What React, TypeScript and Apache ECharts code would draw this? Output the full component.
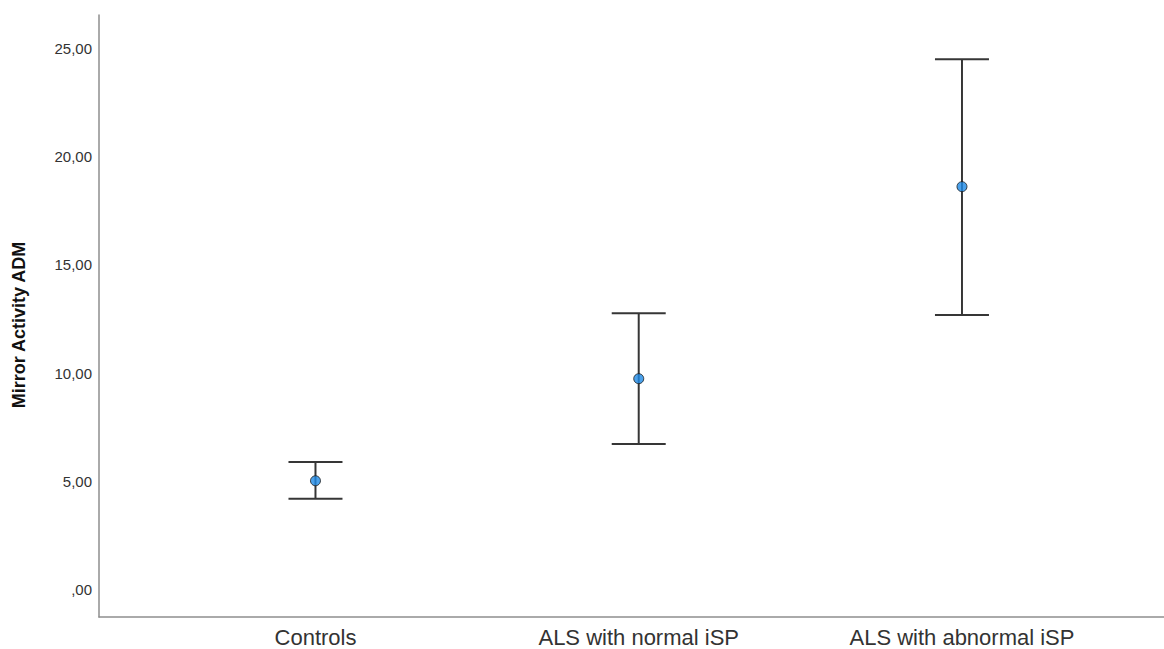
import React, { useEffect, useRef } from "react";
import * as echarts from "echarts";

// Group names, placed at x = 1, 2, 3 on the value axis
const groups = ["Controls", "ALS with normal iSP", "ALS with abnormal iSP"];
// Mean mirror activity per group
const means = [5.04, 9.75, 18.61];
// Lower and upper error-bar limits per group
const lowers = [4.21, 6.74, 12.69];
const uppers = [5.91, 12.77, 24.49];
// Y tick positions
const yTicks = [0, 5, 10, 15, 20, 25];
const yTitle = "Mirror Activity ADM";

const fmtComma = (v: number) => {
  const s = v.toFixed(2).replace(".", ",");
  return s.startsWith("0,") ? s.slice(1) : s;
};

const FONT = "Liberation Sans, Arial, sans-serif";

export default function App() {
  const ref = useRef<HTMLDivElement>(null);

  useEffect(() => {
    if (!ref.current) return;
    const chart = echarts.init(ref.current, undefined, { renderer: "svg" });

    const barData = groups.map((_, i) => [i + 1, lowers[i], uppers[i]]);
    const pointData = groups.map((_, i) => [i + 1, means[i]]);
    const axisColor = "#8e8e8e";

    chart.setOption({
      animation: false,
      backgroundColor: "#ffffff",
      grid: {
        left: 99,
        top: 15,
        right: 0,
        bottom: 32,
        containLabel: false,
        outerBoundsMode: "none",
      },
      graphic: [
        {
          type: "text",
          x: 19,
          y: 325,
          rotation: Math.PI / 2,
          style: {
            text: yTitle,
            align: "center",
            verticalAlign: "middle",
            font: `bold 18px ${FONT}`,
            fill: "#111111",
          },
        },
      ],
      xAxis: {
        type: "value",
        min: 0.3303,
        max: 3.625,
        splitLine: { show: false },
        axisLine: { show: true, onZero: false, lineStyle: { color: axisColor, width: 1.5 } },
        axisTick: { show: false },
        axisLabel: {
          customValues: [1, 2, 3],
          formatter: (v: number) => groups[Math.round(v) - 1] ?? "",
          fontFamily: FONT,
          fontSize: 22,
          color: "#333333",
          margin: 9,
        },
      },
      yAxis: {
        type: "value",
        min: -1.246,
        max: 26.53,
        splitLine: { show: false },
        axisLine: { show: true, onZero: false, lineStyle: { color: axisColor, width: 1.5 } },
        axisTick: { show: false },
        axisLabel: {
          customValues: yTicks,
          formatter: (v: number) => fmtComma(v),
          fontFamily: FONT,
          fontSize: 15,
          color: "#333333",
          margin: 7,
        },
      },
      series: [
        {
          type: "custom",
          data: barData,
          encode: { x: 0, y: [1, 2] },
          renderItem: (params: any, api: any) => {
            const x = api.value(0);
            const lo = api.coord([x, api.value(1)]);
            const hi = api.coord([x, api.value(2)]);
            const half = 27;
            const style = { stroke: "#363636", lineWidth: 2 };
            return {
              type: "group",
              children: [
                { type: "line", shape: { x1: lo[0], y1: lo[1], x2: hi[0], y2: hi[1] }, style },
                { type: "line", shape: { x1: hi[0] - half, y1: hi[1], x2: hi[0] + half, y2: hi[1] }, style },
                { type: "line", shape: { x1: lo[0] - half, y1: lo[1], x2: lo[0] + half, y2: lo[1] }, style },
              ],
            };
          },
          z: 2,
        },
        {
          type: "scatter",
          data: pointData,
          symbol: "circle",
          symbolSize: 10,
          itemStyle: { color: "#1e8ae6", borderColor: "#1c1c1c", borderWidth: 1 },
          z: 3,
        },
      ],
    });

    return () => chart.dispose();
  }, []);

  return (
    <div
      ref={ref}
      style={{ position: "fixed", left: 0, top: 0, width: 1164, height: 649 }}
    />
  );
}
